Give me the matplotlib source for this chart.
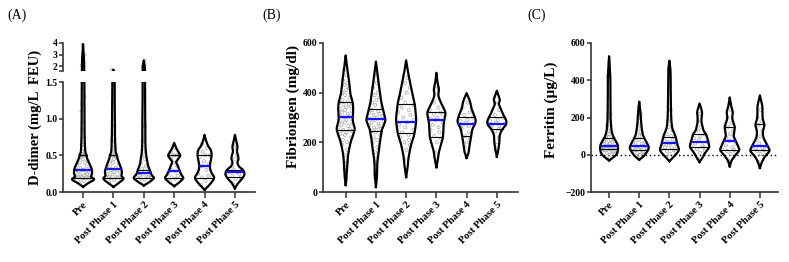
import numpy as np
import matplotlib
matplotlib.use("Agg")
import matplotlib.pyplot as plt

plt.rcParams['font.family'] = ['Liberation Serif', 'DejaVu Serif']

groups = ['Pre', 'Post Phase 1', 'Post Phase 2', 'Post Phase 3', 'Post Phase 4', 'Post Phase 5']

# ---------------- D-dimer (mg/L FEU) ----------------
# violin outline: value levels and relative half width (1 = widest)
dd_levels = [
    [0.07, 0.12, 0.17, 0.21, 0.25, 0.32, 0.40, 0.46, 0.50, 0.55, 0.65, 0.80, 1.2, 1.5, 2.5, 3.9],
    [0.07, 0.12, 0.18, 0.22, 0.27, 0.33, 0.40, 0.46, 0.50, 0.55, 0.65, 0.80, 1.2, 1.5, 1.7],
    [0.09, 0.13, 0.19, 0.24, 0.30, 0.37, 0.45, 0.55, 0.70, 0.90, 1.2, 1.5, 2.0, 2.5],
    [0.08, 0.13, 0.19, 0.24, 0.30, 0.36, 0.41, 0.46, 0.50, 0.55, 0.60, 0.67],
    [0.03, 0.10, 0.19, 0.26, 0.32, 0.38, 0.45, 0.52, 0.58, 0.63, 0.70, 0.78],
    [0.05, 0.12, 0.18, 0.24, 0.30, 0.35, 0.40, 0.45, 0.50, 0.55, 0.62, 0.70, 0.78],
]
dd_dens = [
    [0, 0.5, 1.1, 0.8, 0.9, 0.85, 0.6, 0.4, 0.35, 0.22, 0.18, 0.15, 0.13, 0.12, 0.1, 0],
    [0, 0.5, 1.0, 0.8, 0.85, 0.75, 0.55, 0.4, 0.35, 0.22, 0.18, 0.15, 0.13, 0.12, 0],
    [0, 0.5, 1.0, 0.75, 0.6, 0.4, 0.3, 0.2, 0.15, 0.15, 0.12, 0.12, 0.1, 0],
    [0, 0.5, 0.9, 0.7, 0.5, 0.35, 0.2, 0.45, 0.6, 0.4, 0.2, 0],
    [0, 0.5, 0.95, 0.7, 0.55, 0.55, 0.65, 0.7, 0.6, 0.35, 0.15, 0],
    [0, 0.3, 0.7, 0.95, 0.8, 0.4, 0.25, 0.35, 0.3, 0.2, 0.25, 0.12, 0],
]
dd_q1 = [0.19, 0.19, 0.19, 0.19, 0.19, 0.20]
dd_med = [0.30, 0.32, 0.26, 0.28, 0.36, 0.27]
dd_q3 = [0.50, 0.50, 0.30, 0.50, 0.50, 0.30]
dd_pts = [
    [0.12, 0.15, 0.17, 0.18, 0.19, 0.19, 0.2, 0.2, 0.2, 0.2, 0.21, 0.22, 0.23, 0.24, 0.25, 0.26, 0.27, 0.28,
     0.29, 0.3, 0.3, 0.3, 0.31, 0.33, 0.35, 0.37, 0.4, 0.4, 0.42, 0.45, 0.47, 0.5, 0.5, 0.5, 0.5, 0.5, 0.5,
     0.52, 0.55, 0.6, 0.65, 0.68, 0.75, 0.85, 0.95, 1.1, 1.15, 1.2, 1.3, 2.0, 2.1, 2.5, 3.0, 3.9],
    [0.13, 0.16, 0.18, 0.19, 0.2, 0.2, 0.2, 0.21, 0.22, 0.24, 0.25, 0.27, 0.28, 0.3, 0.3, 0.32, 0.33, 0.35,
     0.38, 0.4, 0.42, 0.45, 0.48, 0.5, 0.5, 0.5, 0.5, 0.55, 0.6, 0.65, 0.7, 0.8, 0.9, 1.0, 1.1, 1.7],
    [0.14, 0.17, 0.19, 0.2, 0.2, 0.2, 0.21, 0.22, 0.23, 0.25, 0.26, 0.28, 0.3, 0.32, 0.35, 0.4, 0.45, 0.5,
     0.55, 0.6, 0.7, 0.9, 0.9, 2.0, 2.5],
    [0.15, 0.18, 0.2, 0.2, 0.22, 0.25, 0.28, 0.3, 0.35, 0.4, 0.45, 0.5, 0.5, 0.5, 0.5, 0.55, 0.6],
    [0.1, 0.15, 0.2, 0.2, 0.22, 0.25, 0.3, 0.35, 0.38, 0.42, 0.48, 0.5, 0.5, 0.55, 0.6, 0.65],
    [0.12, 0.18, 0.2, 0.22, 0.25, 0.26, 0.27, 0.28, 0.3, 0.3, 0.35, 0.45, 0.5, 0.6, 0.65],
]

# ---------------- Fibriongen (mg/dl) ----------------
fb_levels = [
    [28, 60, 100, 150, 200, 230, 255, 280, 300, 330, 360, 390, 420, 460, 500, 550],
    [20, 60, 120, 165, 200, 225, 250, 270, 290, 310, 335, 360, 390, 430, 480, 525],
    [60, 100, 140, 190, 230, 285, 320, 355, 390, 420, 450, 480, 530],
    [100, 130, 160, 190, 220, 250, 280, 300, 320, 340, 365, 390, 410, 425, 445, 480],
    [137, 160, 190, 225, 255, 275, 290, 310, 335, 355, 375, 398],
    [143, 170, 200, 230, 255, 270, 285, 300, 315, 335, 355, 370, 385, 408],
]
fb_dens = [
    [0, 0.1, 0.15, 0.25, 0.5, 0.75, 0.9, 0.75, 0.7, 0.75, 0.7, 0.5, 0.4, 0.3, 0.15, 0],
    [0, 0.1, 0.15, 0.3, 0.4, 0.5, 0.6, 0.8, 0.95, 0.85, 0.7, 0.55, 0.45, 0.3, 0.15, 0],
    [0, 0.15, 0.25, 0.5, 0.8, 1.0, 0.95, 0.85, 0.65, 0.5, 0.35, 0.2, 0],
    [0, 0.15, 0.25, 0.45, 0.65, 0.7, 0.75, 0.85, 0.9, 0.7, 0.4, 0.2, 0.25, 0.2, 0.1, 0],
    [0, 0.2, 0.3, 0.45, 0.6, 0.85, 0.9, 0.75, 0.5, 0.4, 0.25, 0],
    [0, 0.15, 0.25, 0.3, 0.6, 0.9, 0.95, 0.8, 0.6, 0.4, 0.2, 0.3, 0.2, 0],
]
fb_q1 = [250, 247, 237, 223, 225, 254]
fb_med = [301, 295, 283, 289, 275, 273]
fb_q3 = [364, 334, 354, 322, 304, 301]
fb_pts = [
    [90, 100, 120, 150, 170, 190, 200, 210, 220, 230, 235, 240, 245, 250, 255, 260, 265, 270, 275, 280, 285,
     290, 295, 300, 305, 310, 315, 320, 325, 330, 335, 340, 345, 350, 355, 360, 365, 370, 380, 390, 400,
     410, 420, 430, 440, 450, 470, 490],
    [70, 120, 140, 160, 180, 200, 210, 220, 230, 240, 245, 250, 255, 260, 265, 270, 275, 280, 285, 290,
     295, 300, 305, 310, 315, 320, 325, 330, 340, 350, 360, 370, 380, 390, 400, 420, 440, 470],
    [130, 170, 190, 200, 210, 220, 230, 240, 250, 260, 270, 280, 290, 300, 310, 320, 330, 340, 350, 360,
     380, 400, 420, 440, 460],
    [160, 200, 215, 225, 240, 250, 260, 270, 280, 290, 295, 300, 310, 315, 320, 330, 340, 360, 420],
    [180, 200, 215, 225, 240, 255, 265, 270, 275, 280, 285, 290, 300, 310, 320, 340, 360],
    [170, 190, 220, 245, 255, 260, 265, 270, 275, 280, 285, 290, 300, 310, 330, 360],
]

# ---------------- Ferritin (ug/L) ----------------
fe_levels = [
    [-30, -15, 0, 15, 35, 55, 80, 100, 130, 160, 200, 300, 420, 529],
    [-27, -10, 10, 35, 55, 75, 90, 110, 130, 160, 200, 240, 285],
    [-35, -15, 5, 27, 55, 80, 100, 120, 140, 180, 250, 350, 450, 505],
    [-39, -15, 10, 40, 65, 85, 110, 130, 150, 175, 200, 225, 250, 275],
    [-62, -30, 0, 25, 50, 75, 100, 125, 150, 175, 200, 230, 260, 308],
    [-71, -40, -10, 20, 45, 70, 95, 125, 160, 190, 220, 255, 285, 319],
]
fe_dens = [
    [0, 0.4, 0.7, 0.85, 0.9, 0.85, 0.6, 0.4, 0.25, 0.2, 0.15, 0.13, 0.12, 0],
    [0, 0.4, 0.7, 0.95, 0.85, 0.65, 0.5, 0.35, 0.28, 0.2, 0.15, 0.1, 0],
    [0, 0.35, 0.7, 0.95, 0.8, 0.7, 0.6, 0.45, 0.3, 0.2, 0.15, 0.13, 0.11, 0],
    [0, 0.3, 0.55, 0.95, 0.9, 0.8, 0.65, 0.4, 0.3, 0.2, 0.2, 0.25, 0.15, 0],
    [0, 0.2, 0.6, 0.95, 0.8, 0.6, 0.4, 0.45, 0.5, 0.35, 0.25, 0.3, 0.15, 0],
    [0, 0.2, 0.5, 0.95, 0.8, 0.55, 0.35, 0.3, 0.45, 0.3, 0.25, 0.25, 0.15, 0],
]
fe_q1 = [31, 25, 30, 40, 25, 25]
fe_med = [49, 47, 65, 70, 76, 47]
fe_q3 = [88, 88, 97, 112, 151, 164]
fe_pts = [
    [-20, 0, 5, 10, 15, 20, 20, 25, 25, 30, 30, 30, 35, 35, 40, 40, 45, 45, 50, 50, 55, 60, 60, 65, 70, 75,
     80, 85, 90, 95, 100, 110, 120, 130, 150, 160, 180, 200, 220, 310, 420, 500],
    [-15, 0, 5, 10, 15, 20, 25, 25, 30, 30, 35, 40, 40, 45, 50, 55, 60, 65, 70, 80, 90, 100, 110, 120, 140,
     160, 180, 200, 220, 260],
    [-10, 5, 15, 20, 25, 30, 35, 40, 45, 50, 55, 60, 65, 70, 80, 90, 100, 110, 130, 150, 180, 200, 240, 460],
    [-20, 10, 20, 30, 40, 45, 50, 60, 70, 80, 90, 100, 110, 130, 150, 180, 220],
    [-30, 5, 15, 20, 25, 30, 40, 50, 60, 75, 90, 110, 130, 150, 170, 200, 240],
    [-40, 5, 15, 20, 25, 30, 35, 40, 45, 60, 80, 100, 130, 160, 180, 200, 240],
]

W = 789 / 100
H = 262 / 100
MAXW = 0.33   # widest half width in category units
jit = [-0.7, 0.1, 0.75, -0.3, 0.45, -0.85, 0.3, -0.5, 0.85, -0.1]


def smooth_outline(lv, w, n=12):
    # catmull-rom through the knots so the outline is rounded, not jagged
    P = np.column_stack([lv, w])
    P = np.vstack([P[0], P, P[-1]])
    vs, ws = [], []
    t = np.linspace(0, 1, n, endpoint=False)
    for k in range(1, len(P) - 2):
        p0, p1, p2, p3 = P[k - 1], P[k], P[k + 1], P[k + 2]
        for tt in t:
            pt = 0.5 * ((2 * p1) + (-p0 + p2) * tt + (2 * p0 - 5 * p1 + 4 * p2 - p3) * tt ** 2
                        + (-p0 + 3 * p1 - 3 * p2 + p3) * tt ** 3)
            vs.append(pt[0])
            ws.append(pt[1])
    vs.append(P[-2][0])
    ws.append(P[-2][1])
    return np.array(vs), np.clip(np.array(ws), 0, None)


def draw_violins(ax, levels, dens, q1, med, q3, pts):
    for i in range(len(levels)):
        lv = np.array(levels[i], dtype=float)
        w = np.array(dens[i]) * MAXW
        sv, sw = smooth_outline(lv, w)
        # points
        p = np.array(pts[i], dtype=float)
        pw = np.maximum(np.interp(p, lv, w), 0.06)
        off = np.array([jit[k % len(jit)] for k in range(len(p))]) * pw
        ax.scatter(i + off, p, s=5, facecolor='none', edgecolor='#a8a8a8', lw=0.5, zorder=2)
        # outline
        ax.plot(np.concatenate([i - sw, (i + sw)[::-1]]), np.concatenate([sv, sv[::-1]]),
                color='black', lw=1.6, solid_joinstyle='round', zorder=3)
        for q in (q1[i], q3[i]):
            hw = np.interp(q, lv, w)
            ax.plot([i - hw, i + hw], [q, q], color='black', lw=0.8, zorder=4)
        hw = np.interp(med[i], lv, w) * 0.85
        ax.plot([i - hw, i + hw], [med[i], med[i]], color='#1515ff', lw=1.6, zorder=5)


def style(ax, bottom=True):
    for s in ('top', 'right'):
        ax.spines[s].set_visible(False)
    ax.spines['left'].set_linewidth(1.2)
    ax.spines['left'].set_color('#333333')
    ax.spines['bottom'].set_linewidth(1.2)
    ax.spines['bottom'].set_color('#333333')
    ax.tick_params(axis='y', length=3, width=1.1, color='#333333', labelsize=7, pad=1)
    for t in ax.get_yticklabels():
        t.set_fontweight('bold')
    if bottom:
        ax.set_xticks(range(len(groups)))
        ax.set_xticklabels(groups, rotation=45, ha='right', rotation_mode='anchor',
                           fontsize=7.5, fontweight='bold')
        ax.tick_params(axis='x', length=4, width=1.1, color='#333333', pad=2)


fig = plt.figure(figsize=(W, H), dpi=100)

def box(l, r, b, t):
    return [l / 789, 1 - b / 262, (r - l) / 789, (b - t) / 262]

# Panel A: broken axis
axA = fig.add_axes(box(63, 255, 192, 82))
axA2 = fig.add_axes(box(63, 255, 71.5, 43))
for ax in (axA, axA2):
    draw_violins(ax, dd_levels, dd_dens, dd_q1, dd_med, dd_q3, dd_pts)
    ax.set_xlim(-0.66, 5.66)
axA.set_ylim(0, 1.5)
axA.set_yticks([0, 0.5, 1.0, 1.5])
axA.set_yticklabels(['0.0', '0.5', '1.0', '1.5'])
style(axA)
axA2.set_ylim(1.55, 4.0)
axA2.set_yticks([1.55, 2, 3, 4])
axA2.set_yticklabels(['', '2', '3', '4'])
style(axA2, bottom=False)
axA2.spines['bottom'].set_visible(False)
axA2.set_xticks([])
for t in axA2.get_yticklabels():
    t.set_fontweight('bold')
fig.text(35 / 789, 1 - 117 / 262, 'D-dimer (mg/L  FEU)', rotation=90, ha='center', va='center',
         fontsize=10.5, fontweight='bold')

# Panel B
axB = fig.add_axes(box(323, 518, 192, 43))
draw_violins(axB, fb_levels, fb_dens, fb_q1, fb_med, fb_q3, fb_pts)
axB.set_xlim(-0.75, 5.7)
axB.set_ylim(0, 600)
axB.set_yticks([0, 200, 400, 600])
style(axB)
fig.text(293 / 789, 1 - 106 / 262, 'Fibriongen (mg/dl)', rotation=90, ha='center', va='center',
         fontsize=11, fontweight='bold')

# Panel C
axC = fig.add_axes(box(591, 778, 192, 43))
draw_violins(axC, fe_levels, fe_dens, fe_q1, fe_med, fe_q3, fe_pts)
axC.axhline(0, color='black', lw=1, ls=(0, (1, 2)), zorder=1)
axC.set_xlim(-0.6, 5.6)
axC.set_ylim(-200, 600)
axC.set_yticks([-200, 0, 200, 400, 600])
style(axC)
fig.text(551 / 789, 1 - 110 / 262, 'Ferritin (\u00b5g/L)', rotation=90, ha='center', va='center',
         fontsize=11, fontweight='bold')

# panel letters
fig.text(7 / 789, 1 - 15 / 262, '(A)', ha='left', va='center', fontsize=10)
fig.text(262 / 789, 1 - 15 / 262, '(B)', ha='left', va='center', fontsize=10)
fig.text(527 / 789, 1 - 15 / 262, '(C)', ha='left', va='center', fontsize=10)

fig.savefig('out.png', dpi=100)
